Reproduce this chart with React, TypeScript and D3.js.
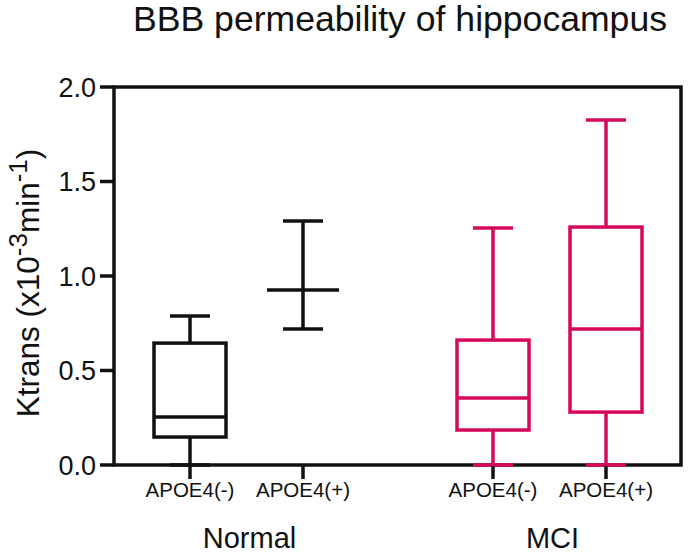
import React from "react";
import * as d3 from "d3";

const groups = ["Normal", "MCI"];
const subgroups = ["APOE4(-)", "APOE4(+)"];
const seriesGroup = ["Normal", "Normal", "MCI", "MCI"];
const seriesSub = ["APOE4(-)", "APOE4(+)", "APOE4(-)", "APOE4(+)"];
const whiskerLow = [0, 0.72, 0, 0];
const q1: (number | null)[] = [0.148, null, 0.185, 0.28];
const median = [0.254, 0.926, 0.354, 0.72];
const q3: (number | null)[] = [0.645, null, 0.661, 1.259];
const whiskerHigh = [0.788, 1.291, 1.254, 1.825];
const yTicks = [0, 0.5, 1.0, 1.5, 2.0];
const groupColors = ["#111111", "#d6085a"];

const W = 688;
const H = 554;
const left = 114, right = 681, top = 87, bottom = 465;
const SW = 3.5;
const FONT = "'Liberation Sans', Arial, Helvetica, sans-serif";

export default function App() {
  const y = d3.scaleLinear().domain([0, 2]).range([bottom, top]);
  const xg = d3.scalePoint<string>().domain(groups).range([246.5, 549.5]);
  const xs = d3.scalePoint<string>().domain(subgroups).range([-56.5, 56.5]);
  const color = d3.scaleOrdinal<string, string>().domain(groups).range(groupColors);
  const fmt = d3.format(".1f");
  const boxW = 72;
  const capW = 40;

  const cx = (i: number) => (xg(seriesGroup[i]) as number) + (xs(seriesSub[i]) as number);

  return (
    <svg width={W} height={H} style={{ position: "absolute", left: 0, top: 0, background: "#fff" }} fontFamily={FONT}>
      <text x={400} y={31} fontSize={35.6} textAnchor="middle" fill="#111">BBB permeability of hippocampus</text>

      {/* frame */}
      <rect x={left} y={top} width={right - left} height={bottom - top} fill="none" stroke="#111" strokeWidth={SW} />

      {/* y ticks */}
      {yTicks.map((t) => (
        <g key={t}>
          <line x1={100} x2={left} y1={y(t)} y2={y(t)} stroke="#111" strokeWidth={SW} />
          <text x={96} y={y(t) + 9.5} fontSize={27} textAnchor="end" fill="#111">{fmt(t)}</text>
        </g>
      ))}

      {/* y label */}
      <text transform={`translate(39,283) rotate(-90)`} fontSize={31.5} textAnchor="middle" fill="#111">
        Ktrans (x10<tspan fontSize={26} dy={-12}>-3</tspan><tspan dy={12}>min</tspan><tspan fontSize={26} dy={-12}>-1</tspan><tspan dy={12}>)</tspan>
      </text>

      {/* boxes */}
      {median.map((m, i) => {
        const c = cx(i);
        const col = color(seriesGroup[i]);
        const lo = q1[i];
        const hi = q3[i];
        const boxTop = hi == null ? y(m) : y(hi);
        const boxBot = lo == null ? y(m) : y(lo);
        return (
          <g key={i} stroke={col} strokeWidth={SW} fill="none">
            <line x1={c} x2={c} y1={y(whiskerHigh[i])} y2={boxTop} />
            <line x1={c} x2={c} y1={boxBot} y2={y(whiskerLow[i])} />
            <line x1={c - capW / 2} x2={c + capW / 2} y1={y(whiskerHigh[i])} y2={y(whiskerHigh[i])} />
            <line x1={c - capW / 2} x2={c + capW / 2} y1={y(whiskerLow[i])} y2={y(whiskerLow[i])} />
            {hi != null && lo != null && (
              <rect x={c - boxW / 2} y={y(hi)} width={boxW} height={y(lo) - y(hi)} />
            )}
            <line x1={c - boxW / 2} x2={c + boxW / 2} y1={y(m)} y2={y(m)} />
          </g>
        );
      })}

      {/* x ticks and labels */}
      {median.map((_, i) => (
        <g key={"xt" + i}>
          <line x1={cx(i)} x2={cx(i)} y1={bottom + 1} y2={479} stroke="#111" strokeWidth={SW} />
          <text x={cx(i)} y={497} fontSize={20.5} textAnchor="middle" fill="#111">{seriesSub[i]}</text>
        </g>
      ))}

      {groups.map((g) => (
        <text key={g} x={(xg(g) as number) + 3} y={548} fontSize={29} textAnchor="middle" fill="#111">{g}</text>
      ))}
    </svg>
  );
}
